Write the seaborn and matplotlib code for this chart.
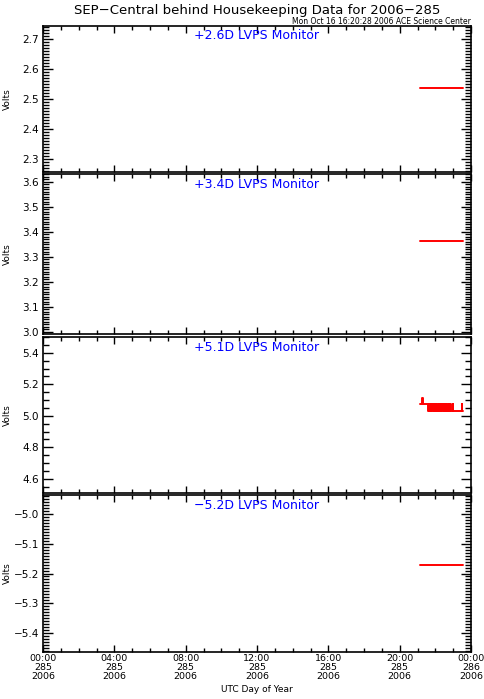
import numpy as np
import pandas as pd
import matplotlib
matplotlib.use("Agg")
import matplotlib.pyplot as plt
import matplotlib.ticker as mticker
import seaborn as sns

# hours since 00:00 UTC on day 285
t_flat = [21.14, 22.0, 23.0, 23.55]
v26 = [2.538, 2.538, 2.538, 2.538]
v34 = [3.362, 3.362, 3.362, 3.362]
v52 = [-5.171, -5.171, -5.171, -5.171]

t51 = [21.14, 21.28, 21.30, 21.59, 21.62, 21.66, 21.70, 21.74, 21.78, 21.82,
       21.86, 21.90, 21.94, 21.98, 22.02, 22.06, 22.10, 22.14, 22.18, 22.22,
       22.26, 22.30, 22.34, 22.38, 22.42, 22.46, 22.50, 22.54, 22.58, 22.62,
       22.66, 22.70, 22.74, 22.78, 22.82, 22.86, 22.88, 22.98, 23.00, 23.48,
       23.50, 23.55]
v51 = [5.075, 5.115, 5.075, 5.030, 5.075, 5.030, 5.075, 5.030, 5.075, 5.030,
       5.075, 5.030, 5.075, 5.030, 5.075, 5.030, 5.075, 5.030, 5.075, 5.030,
       5.075, 5.030, 5.075, 5.030, 5.075, 5.030, 5.075, 5.030, 5.075, 5.030,
       5.075, 5.030, 5.075, 5.030, 5.075, 5.030, 5.030, 5.075, 5.030, 5.075,
       5.030, 5.030]

titles = ["+2.6D LVPS Monitor", "+3.4D LVPS Monitor",
          "+5.1D LVPS Monitor", "\u22125.2D LVPS Monitor"]
ylims = [(2.257, 2.743), (2.992, 3.632), (4.51, 5.50), (-5.464, -4.936)]
ymajor = [0.1, 0.1, 0.2, 0.1]
yminor = [0.01, 0.01, 0.05, 0.01]
xtick_hours = [0, 4, 8, 12, 16, 20, 24]
xtick_labels = ["00:00\n285\n2006", "04:00\n285\n2006", "08:00\n285\n2006",
                "12:00\n285\n2006", "16:00\n285\n2006", "20:00\n285\n2006",
                "00:00\n286\n2006"]

sns.set_style("ticks")
plt.rcParams["font.family"] = ["DejaVu Sans"]
plt.rcParams["text.color"] = "black"
plt.rcParams["axes.labelcolor"] = "black"

W, H = 484, 699
fig = plt.figure(figsize=(W / 100, H / 100), dpi=100)

# panel pixel extents (top, bottom)
panels_px = [(26, 172), (174, 334), (337, 493), (495, 652)]
left_px, right_px = 43, 471

series = [(t_flat, v26), (t_flat, v34), (t51, v51), (t_flat, v52)]

for i, ((top, bot), (tt, vv)) in enumerate(zip(panels_px, series)):
    ax = fig.add_axes([left_px / W, 1 - bot / H, (right_px - left_px) / W, (bot - top) / H])
    df = pd.DataFrame({"hour": tt, "volts": vv})
    sns.lineplot(data=df, x="hour", y="volts", ax=ax, color="red", linewidth=1.4,
                 drawstyle="steps-post", estimator=None, sort=False)
    ax.set_xlim(0, 24)
    ax.set_ylim(*ylims[i])
    ax.yaxis.set_major_locator(mticker.MultipleLocator(ymajor[i]))
    ax.yaxis.set_minor_locator(mticker.MultipleLocator(yminor[i]))
    ax.yaxis.set_major_formatter(mticker.FuncFormatter(lambda v, p: ("%.1f" % v).replace("-", "\u2212")))
    ax.xaxis.set_major_locator(mticker.FixedLocator(xtick_hours))
    ax.xaxis.set_minor_locator(mticker.MultipleLocator(1))
    ax.tick_params(which="both", direction="in", top=True, right=True, width=1, colors="black")
    ax.tick_params(axis="y", which="major", length=7, labelsize=7.5, pad=3)
    ax.tick_params(axis="y", which="minor", length=4)
    ax.tick_params(axis="x", which="major", length=5, labelsize=6.8, pad=1.5)
    ax.tick_params(axis="x", which="minor", length=3)
    for s in ax.spines.values():
        s.set_linewidth(1.2)
        s.set_color("black")
    ax.set_ylabel("Volts", fontsize=6.5)
    ax.yaxis.set_label_coords(-31 / (right_px - left_px), 0.5)
    ax.text(0.5, 0.935, titles[i], transform=ax.transAxes, ha="center", va="center",
            color="blue", fontsize=9)
    if i == 3:
        ax.set_xticklabels(xtick_labels, linespacing=1.0)
        ax.set_xlabel("UTC Day of Year", fontsize=6.5, labelpad=3)
    else:
        ax.set_xticklabels([])
        ax.set_xlabel("")

fig.text((left_px + right_px) / 2 / W, 1 - 10.5 / H,
         "SEP\u2212Central behind Housekeeping Data for 2006\u2212285",
         ha="center", va="center", fontsize=9.5)
fig.text(right_px / W, 1 - 21.5 / H, "Mon Oct 16 16:20:28 2006 ACE Science Center",
         ha="right", va="center", fontsize=5.5)

fig.savefig("out.png", dpi=100)
